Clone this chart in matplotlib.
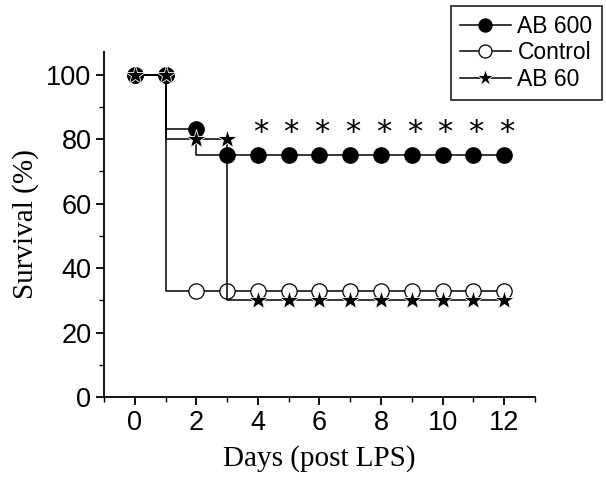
import matplotlib
matplotlib.use("Agg")
import matplotlib.pyplot as plt
from matplotlib.ticker import MultipleLocator

days = [0, 1, 2, 3, 4, 5, 6, 7, 8, 9, 10, 11, 12]
ab600 = [100, 100, 83, 75, 75, 75, 75, 75, 75, 75, 75, 75, 75]
control = [100, 100, 33, 33, 33, 33, 33, 33, 33, 33, 33, 33, 33]
ab60 = [100, 100, 80, 80, 30, 30, 30, 30, 30, 30, 30, 30, 30]
sig_days = [4, 5, 6, 7, 8, 9, 10, 11, 12]
sig_y = 82

fig = plt.figure(figsize=(6.06, 4.87), dpi=100)
ax = fig.add_axes([0.1716, 0.1848, 0.7112, 0.7084])

lw = 1.1
ax.plot(days, control, drawstyle="steps-pre", color="black", lw=lw,
        marker="o", ms=11, mfc="white", mec="black", mew=0.9, label="Control", zorder=3)
ax.plot(days, ab600, drawstyle="steps-pre", color="black", lw=lw,
        marker="o", ms=11, mfc="black", mec="black", label="AB 600", zorder=4)
ax.plot(days, ab60, drawstyle="steps-pre", color="black", lw=lw,
        marker="*", ms=15, mfc="black", mec="white", mew=0.6, label="AB 60", zorder=5)

for d in sig_days:
    ax.text(d + 0.08, sig_y, "*", ha="center", va="center", fontsize=22,
            family="DejaVu Sans")

ax.set_xlim(-1, 13)
ax.set_ylim(0, 107)
ax.xaxis.set_major_locator(MultipleLocator(2))
ax.xaxis.set_minor_locator(MultipleLocator(1))
ax.yaxis.set_major_locator(MultipleLocator(20))
ax.yaxis.set_minor_locator(MultipleLocator(10))
for side in ("top", "right"):
    ax.spines[side].set_visible(False)
for side in ("left", "bottom"):
    ax.spines[side].set_linewidth(1.3)
ax.tick_params(which="major", direction="out", length=6, width=1.3,
               labelsize=19.5, pad=3)
ax.tick_params(which="minor", direction="out", length=3.5, width=1.0)
for lab in ax.get_xticklabels() + ax.get_yticklabels():
    lab.set_family("Liberation Sans")

ax.set_xlabel("Days (post LPS)", family="Liberation Serif", fontsize=21, labelpad=7)
ax.set_ylabel("Survival (%)", family="Liberation Serif", fontsize=21, labelpad=5)

handles, labels = ax.get_legend_handles_labels()
order = [1, 0, 2]
leg = fig.legend([handles[i] for i in order], [labels[i] for i in order],
                 loc="upper right", bbox_to_anchor=(0.993, 0.988),
                 prop={"family": "Liberation Sans", "size": 16.5},
                 frameon=True, fancybox=False, edgecolor="black",
                 handlelength=2.2, handletextpad=0.3, labelspacing=0.15,
                 borderpad=0.4, borderaxespad=0.0, markerscale=0.85)
leg.get_frame().set_linewidth(1.3)

fig.savefig("out.png", dpi=100)
